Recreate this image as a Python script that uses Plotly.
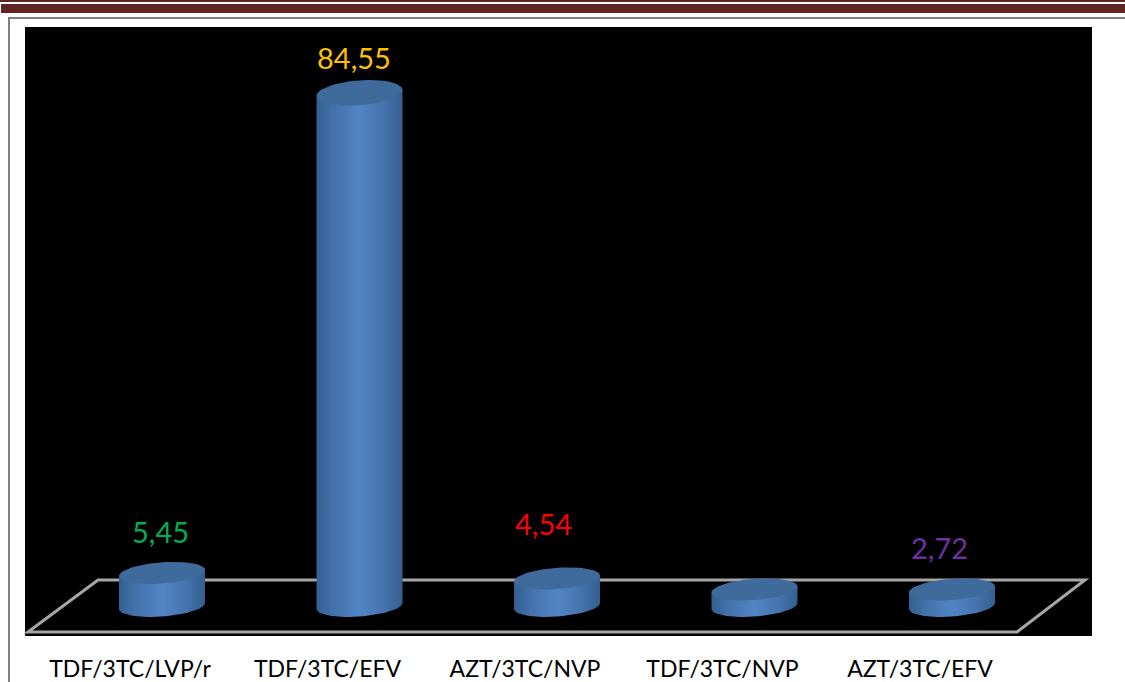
import numpy as np
import plotly.graph_objects as go

categories = ["TDF/3TC/LVP/r", "TDF/3TC/EFV", "AZT/3TC/NVP", "TDF/3TC/NVP", "AZT/3TC/EFV"]
values = [5.45, 84.55, 4.54, 2.72, 2.72]
labels = ["5,45", "84,55", "4,54", "", "2,72"]
label_colors = ["#00b050", "#ffc000", "#ff0000", "#000000", "#7030a0"]
label_dx = [-2, -6, -14, 0, -13]
label_dy = [41, 35, 55, 0, 42]

W, H = 1125, 682
L, T, R, B = 25, 27, 1092, 636
X0, DX = 162.0, 197.5     # pixel centre of first column, pixel spacing
Y0, SY = 606.0, 6.07      # pixel of value 0, pixels per unit
RX, RY_BASE, RY_GROW, TILT = 43.0, 10.5, 2.0, 3.0

xr = [(L - X0) / DX, (R - X0) / DX]
yr = [(Y0 - B) / SY, (Y0 - T) / SY]
ux, uy = 1 / DX, 1 / SY

t = np.linspace(0, 2 * np.pi, 73)
a = np.linspace(np.pi, 0, 37)
GRAD = [[0, "#33608f"], [0.2, "#4472ab"], [0.5, "#5285c6"], [0.8, "#4472ab"], [1, "#33608f"]]

fig = go.Figure()
vmax = max(values)
for i, v in enumerate(values):
    ry_top = RY_BASE + RY_GROW * v / vmax
    ex = i + RX * ux * np.cos(a)
    tilt = TILT * np.cos(a) * uy
    xs = np.concatenate([ex, ex[::-1]])
    ys = np.concatenate([v + tilt, (tilt - RY_BASE * np.sin(a) * uy)[::-1]])
    fig.add_trace(go.Scatter(
        x=xs, y=ys, mode="lines", fill="toself", line=dict(width=0),
        fillgradient=dict(type="horizontal", colorscale=GRAD),
        hoverinfo="skip", showlegend=False))
    fig.add_trace(go.Scatter(
        x=i + RX * ux * np.cos(t),
        y=v + (ry_top * np.sin(t) + TILT * np.cos(t)) * uy,
        mode="lines", fill="toself", line=dict(width=0), fillcolor="#3f6a9c",
        hoverinfo="skip", showlegend=False))

annotations = []
for i, v in enumerate(values):
    if labels[i]:
        annotations.append(dict(
            x=i, y=v, xref="x", yref="y", text=labels[i], showarrow=False,
            xshift=label_dx[i], yshift=label_dy[i],
            font=dict(family="Lato", size=29, color=label_colors[i])))

def px(x): return (x - L) / (R - L)
def py(y): return (B - y) / (B - T)

floor = [(28, 632), (98, 580), (1085, 580), (1017, 632)]
path = "M " + " L ".join(f"{px(x):.5f} {py(y):.5f}" for x, y in floor) + " Z"
shapes = [
    dict(type="path", xref="paper", yref="paper", path=path, layer="below",
         line=dict(color="#a6a6a6", width=3)),
    dict(type="rect", xref="paper", yref="paper", x0=px(0), x1=px(W), y0=py(0), y1=py(2),
         fillcolor="#622423", line_width=0),
    dict(type="rect", xref="paper", yref="paper", x0=px(1), x1=px(W), y0=py(4), y1=py(13),
         fillcolor="#622423", line_width=0),
    dict(type="rect", xref="paper", yref="paper", x0=px(8), x1=px(10), y0=py(17), y1=py(H),
         fillcolor="#808080", line_width=0),
    dict(type="rect", xref="paper", yref="paper", x0=px(8), x1=px(W), y0=py(17), y1=py(19),
         fillcolor="#808080", line_width=0),
]

fig.update_layout(
    width=W, height=H, autosize=False,
    margin=dict(l=L, r=W - R, t=T, b=H - B, autoexpand=False),
    paper_bgcolor="white", plot_bgcolor="black", showlegend=False,
    shapes=shapes, annotations=annotations,
    xaxis=dict(range=xr, automargin=False, showgrid=False, zeroline=False, showline=False, ticks="",
               tickmode="array", tickvals=[i - 32 / DX for i in range(len(categories))],
               ticktext=categories, ticklabelstandoff=17,
               tickfont=dict(family="Lato", size=23, color="black")),
    yaxis=dict(range=yr, visible=False),
)
fig.write_html("out.html", config=dict(displayModeBar=False),
               post_script="document.body.style.margin='0';document.documentElement.style.overflow='hidden';")
